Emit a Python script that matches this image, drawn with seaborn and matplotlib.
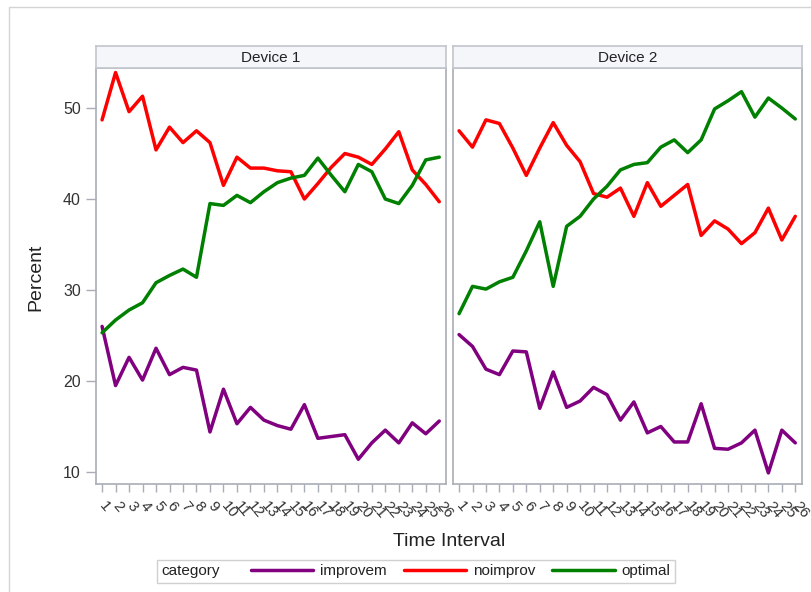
import matplotlib
matplotlib.use("Agg")
import matplotlib.pyplot as plt
import seaborn as sns
import pandas as pd
from matplotlib.lines import Line2D
from matplotlib.patches import Rectangle
from matplotlib.offsetbox import HPacker

# ---------------- data ----------------
intervals = list(range(1, 27))
devices = ["Device 1", "Device 2"]
categories = ["improvem", "noimprov", "optimal"]
colors = ["#800080", "#ff0000", "#008000"]

dev1_improvem = [26.0, 19.5, 22.6, 20.1, 23.6, 20.7, 21.5, 21.2, 14.4, 19.1, 15.3, 17.1, 15.7,
                 15.1, 14.7, 17.4, 13.7, 13.9, 14.1, 11.4, 13.2, 14.6, 13.2, 15.4, 14.2, 15.6]
dev1_noimprov = [48.7, 53.9, 49.6, 51.3, 45.4, 47.9, 46.2, 47.5, 46.2, 41.5, 44.6, 43.4, 43.4,
                 43.1, 43.0, 40.0, 41.7, 43.5, 45.0, 44.6, 43.8, 45.5, 47.4, 43.2, 41.6, 39.7]
dev1_optimal = [25.3, 26.7, 27.8, 28.6, 30.8, 31.6, 32.3, 31.4, 39.5, 39.3, 40.4, 39.6, 40.8,
                41.8, 42.3, 42.6, 44.5, 42.6, 40.8, 43.8, 43.0, 40.0, 39.5, 41.5, 44.3, 44.6]

dev2_improvem = [25.1, 23.8, 21.3, 20.7, 23.3, 23.2, 17.0, 21.0, 17.1, 17.8, 19.3, 18.5, 15.7,
                 17.7, 14.3, 15.0, 13.3, 13.3, 17.5, 12.6, 12.5, 13.2, 14.6, 9.9, 14.6, 13.2]
dev2_noimprov = [47.5, 45.7, 48.7, 48.3, 45.6, 42.6, 45.6, 48.4, 45.9, 44.1, 40.6, 40.2, 41.2,
                 38.1, 41.8, 39.2, 40.4, 41.6, 36.0, 37.6, 36.7, 35.1, 36.3, 39.0, 35.5, 38.1]
dev2_optimal = [27.4, 30.4, 30.1, 30.9, 31.4, 34.3, 37.5, 30.4, 37.0, 38.1, 40.0, 41.4, 43.2,
                43.8, 44.0, 45.7, 46.5, 45.1, 46.5, 49.9, 50.8, 51.8, 49.0, 51.1, 50.0, 48.8]

series = {
    ("Device 1", "improvem"): dev1_improvem,
    ("Device 1", "noimprov"): dev1_noimprov,
    ("Device 1", "optimal"): dev1_optimal,
    ("Device 2", "improvem"): dev2_improvem,
    ("Device 2", "noimprov"): dev2_noimprov,
    ("Device 2", "optimal"): dev2_optimal,
}
rows = []
for (dev, cat), vals in series.items():
    for t, v in zip(intervals, vals):
        rows.append({"device": dev, "interval": t, "category": cat, "percent": v})
df = pd.DataFrame(rows)

# ---------------- style ----------------
sns.set_theme(style="white")
plt.rcParams["font.family"] = ["Liberation Sans", "DejaVu Sans"]

W, H = 812, 592
fig = plt.figure(figsize=(W / 100, H / 100), dpi=100)
fig.patch.set_facecolor("white")

def frac(x0, y0, x1, y1):
    return [x0 / W, 1 - y1 / H, (x1 - x0) / W, (y1 - y0) / H]

# outer frame
fig.patches.append(Rectangle((9 / W, -0.1), 1.2, 1 - 7 / H + 0.1, transform=fig.transFigure,
                             fill=False, edgecolor="#d4d4d4", linewidth=1.0))

spine_col = "#a9adb5"
text_col = "#333333"
palette = dict(zip(categories, colors))

panels = [(devices[0], (96, 446)), (devices[1], (453, 802))]
for i, (dev, (x0, x1)) in enumerate(panels):
    ax = fig.add_axes(frac(x0, 68, x1, 484))
    sns.lineplot(data=df[df["device"] == dev], x="interval", y="percent",
                 hue="category", hue_order=categories, palette=palette,
                 linewidth=2.5, ax=ax, legend=False)
    ax.set_xlim(0.55, 26.5)
    ax.set_ylim(8.68, 54.4)
    ax.set_xlabel("")
    ax.set_ylabel("")
    ax.set_xticks(intervals)
    ax.set_xticklabels([str(t) for t in intervals], rotation=-50, ha="left", va="center",
                       rotation_mode="anchor", fontsize=11, color=text_col)
    ax.tick_params(axis="x", direction="out", length=6, width=1, color=spine_col, pad=8,
                   bottom=True)
    ax.set_yticks([10, 20, 30, 40, 50])
    if i == 0:
        ax.tick_params(axis="y", direction="out", length=7, width=1, color=spine_col, pad=4,
                       labelsize=11.5, labelcolor=text_col, left=True)
    else:
        ax.tick_params(axis="y", left=False, labelleft=False)
    for s in ax.spines.values():
        s.set_color(spine_col)
        s.set_linewidth(1.2)
    # strip header
    sax = fig.add_axes(frac(x0, 46, x1, 68))
    sax.set_facecolor("#f5f6fa")
    sax.set_xticks([])
    sax.set_yticks([])
    for s in sax.spines.values():
        s.set_color("#c2c5cc")
        s.set_linewidth(1.2)
    sax.text(0.5, 0.47, dev, ha="center", va="center", fontsize=11, color="#222222",
             transform=sax.transAxes)

fig.text(36 / W, 1 - 277 / H, "Percent", rotation=90, ha="center", va="center",
         fontsize=14, color="#222222")
fig.text(449 / W, 1 - 542 / H, "Time Interval", ha="center", va="center",
         fontsize=14, color="#222222")

handles = [Line2D([], [], color=c, linewidth=2.5) for c in colors]
leg = fig.legend(handles, categories, title="category", ncol=3, loc="lower left",
                 bbox_to_anchor=(157 / W, 1 - 583 / H), borderaxespad=0,
                 fontsize=11, title_fontsize=11, handlelength=4.1, handletextpad=0.45,
                 columnspacing=1.1, borderpad=0.3, frameon=True, fancybox=False,
                 edgecolor="#d0d0d0", framealpha=1)
for t in leg.get_texts():
    t.set_color("#222222")
leg.get_title().set_color("#222222")
try:
    box = leg._legend_box
    kids = box.get_children()
    newbox = HPacker(pad=box.pad, sep=22, align="center", children=kids)
    newbox.set_figure(fig)
    newbox.set_offset(leg._findoffset)
    leg._legend_box = newbox
except Exception:
    pass

fig.savefig("out.png", dpi=100, facecolor="white")
